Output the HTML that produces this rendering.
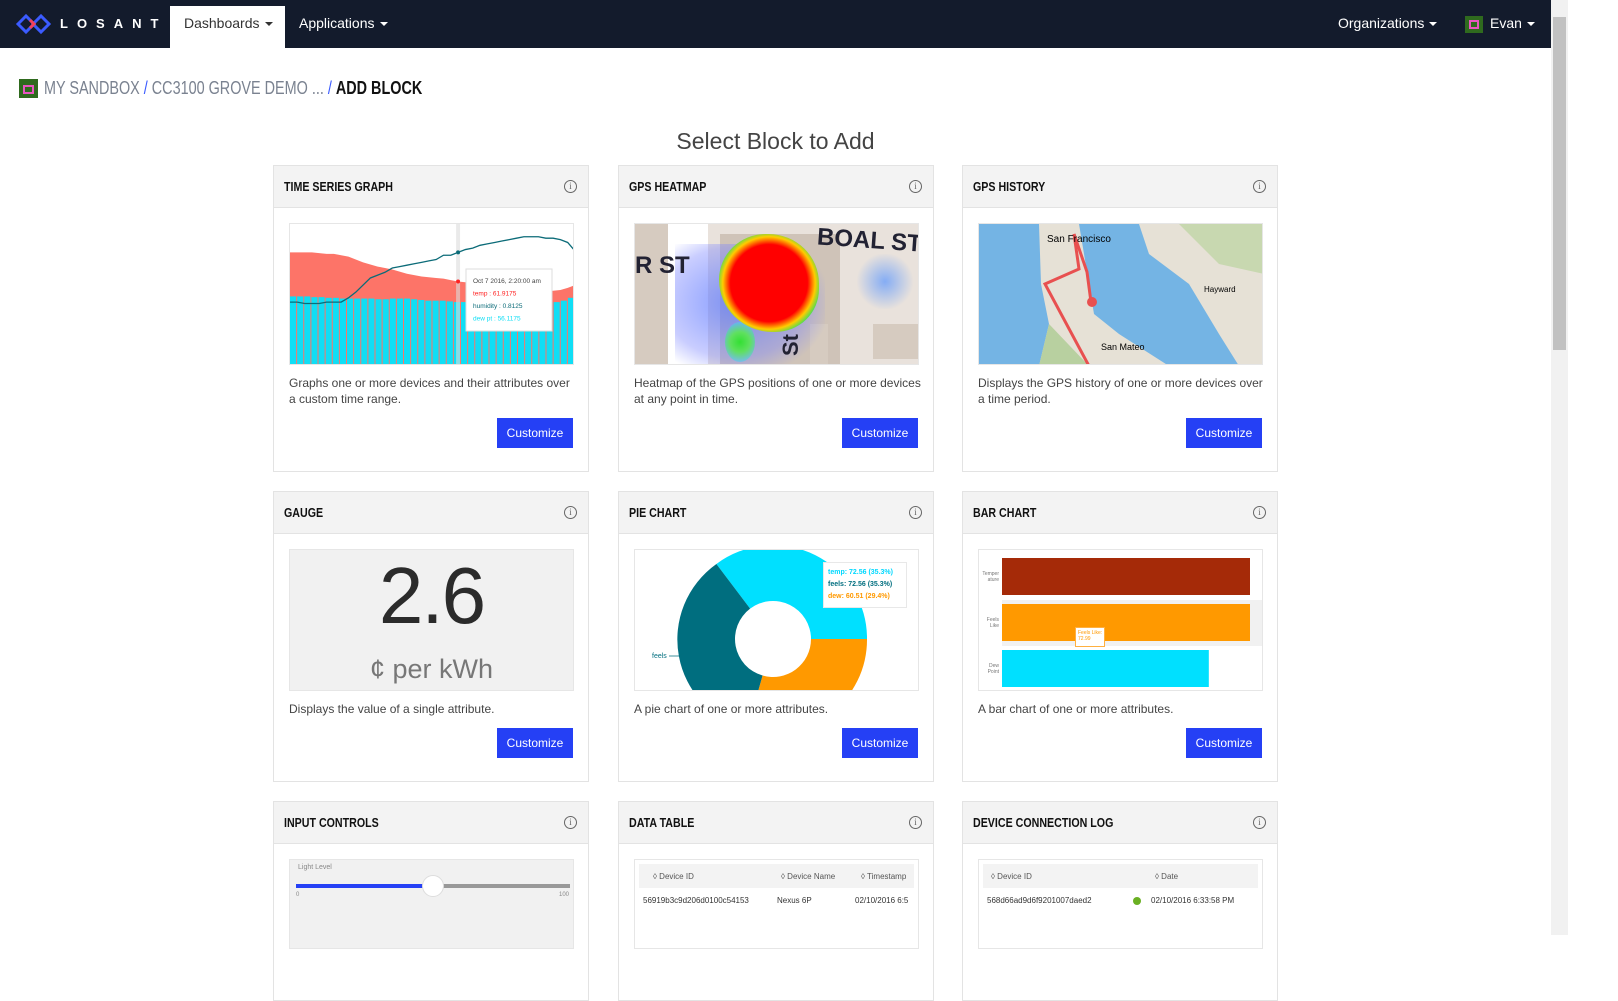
<!DOCTYPE html>
<html><head><meta charset="utf-8">
<style>
*{box-sizing:border-box;margin:0;padding:0}
html,body{width:1618px;height:935px;overflow:hidden;background:#fff;font-family:"Liberation Sans",sans-serif;color:#333}
.nav{position:absolute;left:0;top:0;width:1551px;height:48px;background:#131b2c}
.nav span{position:absolute;top:15px;font-size:14px;color:#fff;white-space:nowrap}
.caret{display:inline-block;width:0;height:0;border-left:4px solid transparent;border-right:4px solid transparent;border-top:4px solid currentColor;margin-left:5px;vertical-align:middle}
.scroll{position:absolute;left:1551px;top:0;width:17px;height:935px;background:#f1f1f1}
.thumb{position:absolute;left:1553px;top:17px;width:13px;height:333px;background:#c1c1c1}
.crumb{position:absolute;top:78px;font-size:18px;color:#7a8290;white-space:nowrap;transform:scaleX(0.8);transform-origin:left top}
.card{position:absolute;width:316px;border:1px solid #e3e3e3;background:#fff}
.hd{height:42px;background:#f3f3f3;border-bottom:1px solid #e3e3e3;position:relative}
.hd b{position:absolute;left:10px;top:13px;font-size:13px;color:#111;white-space:nowrap;transform:scaleX(0.82);transform-origin:left top}
.info{position:absolute;right:11px;top:14px;width:13px;height:13px;border:1px solid #666;border-radius:50%;font-size:9px;line-height:11px;text-align:center;color:#666;font-family:"Liberation Serif",serif}
.img{position:absolute;left:15px;top:57px;width:285px;height:142px;border:1px solid #e6e6e6;overflow:hidden}
.desc{position:absolute;left:15px;font-size:12px;line-height:16px;color:#444;width:290px}
.btn{position:absolute;right:15px;width:76px;height:30px;background:#2540f5;color:#fff;font-size:12px;text-align:center;line-height:30px}
</style></head><body>
<div class="nav">
 <svg style="position:absolute;left:16px;top:13px" width="36" height="22"><path d="M2 11 L10 3 L18 11 L10 19 Z" fill="none" stroke="#3b5bff" stroke-width="3"/><path d="M17 11 L25 3 L33 11 L25 19 Z" fill="none" stroke="#3b5bff" stroke-width="3"/><path d="M14 7 L18 11 L14 15" stroke="#f5405a" stroke-width="3" fill="none"/></svg>
 <span style="left:60px;letter-spacing:9px;font-weight:bold;font-size:13px;top:16px">LOSANT</span>
 <div style="position:absolute;left:170px;top:6px;width:115px;height:42px;background:#fff"></div>
 <span style="left:184px;color:#333">Dashboards<i class="caret"></i></span>
 <span style="left:299px">Applications<i class="caret"></i></span>
 <span style="left:1338px">Organizations<i class="caret"></i></span>
 <div style="position:absolute;left:1465px;top:16px;width:18px;height:17px;background:#2f6a1e"><div style="margin:4px 4px;width:10px;height:9px;border:2px solid #e856c0"></div></div>
 <span style="left:1490px">Evan<i class="caret"></i></span>
</div>
<div class="scroll"></div><div class="thumb"></div>

<div style="position:absolute;left:19px;top:79px;width:19px;height:19px;background:#2f6a1e"><div style="margin:6px 4px;width:11px;height:9px;border:2px solid #e856c0"></div></div>
<div class="crumb" style="left:44px">MY SANDBOX <span style="color:#3b5bff">/</span> CC3100 GROVE DEMO ... <span style="color:#3b5bff">/</span> <b style="color:#111">ADD BLOCK</b></div>
<div style="position:absolute;left:0;width:1551px;top:128px;text-align:center;font-size:23px;color:#444">Select Block to Add</div>

<!-- Row 1 -->
<div class="card" style="left:273px;top:165px;height:307px">
 <div class="hd"><b>TIME SERIES GRAPH</b><div class="info">i</div></div>
 <div class="img"><svg id="ts" width="285" height="142"></svg></div>
 <div class="desc" style="top:209px">Graphs one or more devices and their attributes over a custom time range.</div>
 <div class="btn" style="top:252px">Customize</div>
</div>
<div class="card" style="left:618px;top:165px;height:307px">
 <div class="hd"><b>GPS HEATMAP</b><div class="info">i</div></div>
 <div class="img" style="background:#e9e2dc">
  <div style="position:absolute;left:0;top:0;width:33px;height:142px;background:#d6cbc0"></div>
  <div style="position:absolute;left:33px;top:0;width:40px;height:142px;background:#fff"></div>
  <div style="position:absolute;left:85px;top:10px;width:120px;height:132px;background:#cfc3b8"></div>
  <div style="position:absolute;left:238px;top:100px;width:45px;height:35px;background:#d6cbc0"></div>
  <div style="position:absolute;left:175px;top:100px;width:18px;height:42px;background:#d6cbc0"></div>
  <div style="position:absolute;left:40px;top:20px;width:150px;height:130px;background:radial-gradient(ellipse at 40% 45%,rgba(90,120,255,.75),rgba(120,130,255,.4) 55%,rgba(150,150,255,0) 75%)"></div>
  <div style="position:absolute;left:220px;top:30px;width:60px;height:55px;background:radial-gradient(circle,rgba(90,150,255,.7),rgba(120,140,255,0) 70%)"></div>
  <div style="position:absolute;left:90px;top:98px;width:30px;height:40px;border-radius:50%;background:radial-gradient(circle,#33e033,#60e060 40%,rgba(80,200,255,.6) 80%,rgba(80,200,255,0))"></div>
  <div style="position:absolute;left:84px;top:10px;width:100px;height:98px;border-radius:48% 52% 45% 55%;background:radial-gradient(circle at 50% 50%,#ff0000 55%,#ffcc00 66%,#30e060 76%,rgba(60,200,255,.8) 86%,rgba(80,160,255,0) 100%)"></div>
  <div style="position:absolute;left:182px;top:3px;font-size:24px;font-weight:bold;color:#223;transform:rotate(4deg);white-space:nowrap">BOAL ST</div>
  <div style="position:absolute;left:0;top:28px;font-size:24px;font-weight:bold;color:#223;white-space:nowrap">R ST</div>
  <div style="position:absolute;left:145px;top:108px;font-size:22px;font-weight:bold;color:#223;transform:rotate(-90deg)">St</div>
 </div>
 <div class="desc" style="top:209px">Heatmap of the GPS positions of one or more devices at any point in time.</div>
 <div class="btn" style="top:252px">Customize</div>
</div>
<div class="card" style="left:962px;top:165px;height:307px">
 <div class="hd"><b>GPS HISTORY</b><div class="info">i</div></div>
 <div class="img" style="background:#74b4e4">
  <svg width="285" height="142"><path d="M60 0 L100 0 L105 30 L110 60 L115 90 L140 110 L190 142 L60 142 L70 100 L62 60 Z" fill="#e6e1d6"/><path d="M160 0 L285 0 L285 142 L260 142 L240 110 L210 60 L170 30 Z" fill="#e6e1d6"/><path d="M200 0 L285 0 L285 50 L240 40 Z" fill="#c8d8b0"/><path d="M70 100 L110 142 L60 142 Z" fill="#b8d0a0"/><path d="M95 10 L100 45 L66 60 L110 142" stroke="#e85050" stroke-width="3" fill="none"/><path d="M95 10 L108 48 L112 78" stroke="#e85050" stroke-width="3" fill="none"/><circle cx="113" cy="78" r="5" fill="#e85050"/>
  <text x="68" y="18" font-size="10" font-family="Liberation Sans">San Francisco</text><text x="225" y="68" font-size="8" font-family="Liberation Sans">Hayward</text><text x="122" y="126" font-size="9" font-family="Liberation Sans">San Mateo</text></svg>
 </div>
 <div class="desc" style="top:209px">Displays the GPS history of one or more devices over a time period.</div>
 <div class="btn" style="top:252px">Customize</div>
</div>

<!-- Row 2 -->
<div class="card" style="left:273px;top:491px;height:291px">
 <div class="hd"><b>GAUGE</b><div class="info">i</div></div>
 <div class="img" style="background:#f1f1f1;border-color:#e6e6e6">
  <div style="position:absolute;width:100%;top:0;text-align:center;font-size:80px;color:#2b2b2b;letter-spacing:-2px">2.6</div>
  <div style="position:absolute;width:100%;top:104px;text-align:center;font-size:27px;color:#777">¢ per kWh</div>
 </div>
 <div class="desc" style="top:209px">Displays the value of a single attribute.</div>
 <div class="btn" style="top:236px">Customize</div>
</div>
<div class="card" style="left:618px;top:491px;height:291px">
 <div class="hd"><b>PIE CHART</b><div class="info">i</div></div>
 <div class="img"><svg id="pie" width="285" height="142"></svg>
  <div style="position:absolute;left:188px;top:12px;width:84px;height:46px;background:#fff;border:1px solid #e8e8e8;font-size:7px;line-height:12px;padding:4px 4px;font-weight:bold;white-space:nowrap"><div style="color:#00d8ff">temp: 72.56 (35.3%)</div><div style="color:#006e7f">feels: 72.56 (35.3%)</div><div style="color:#ff9900">dew: 60.51 (29.4%)</div></div>
 </div>
 <div class="desc" style="top:209px">A pie chart of one or more attributes.</div>
 <div class="btn" style="top:236px">Customize</div>
</div>
<div class="card" style="left:962px;top:491px;height:291px">
 <div class="hd"><b>BAR CHART</b><div class="info">i</div></div>
 <div class="img"><svg id="bar" width="285" height="142"></svg>
  <div style="position:absolute;left:96px;top:77px;width:30px;height:20px;background:#fff;border:1px solid #ffb040;font-size:5px;color:#ff9900;padding:2px;white-space:nowrap">Feels Like:<br>72.99</div>
 </div>
 <div class="desc" style="top:209px">A bar chart of one or more attributes.</div>
 <div class="btn" style="top:236px">Customize</div>
</div>

<!-- Row 3 -->
<div class="card" style="left:273px;top:801px;height:200px">
 <div class="hd"><b>INPUT CONTROLS</b><div class="info">i</div></div>
 <div class="img" style="background:#f1f1f1;top:57px;height:90px">
  <div style="position:absolute;left:8px;top:4px;font-size:7px;color:#888">Light Level</div>
  <div style="position:absolute;left:6px;top:24px;width:136px;height:4px;background:#2540f5"></div>
  <div style="position:absolute;left:142px;top:24px;width:138px;height:4px;background:#999"></div>
  <div style="position:absolute;left:132px;top:15px;width:22px;height:22px;border-radius:50%;background:#fff;border:1px solid #ddd"></div>
  <div style="position:absolute;left:6px;top:32px;font-size:6px;color:#888">0</div>
  <div style="position:absolute;right:4px;top:32px;font-size:6px;color:#888">100</div>
 </div>
</div>
<div class="card" style="left:618px;top:801px;height:200px">
 <div class="hd"><b>DATA TABLE</b><div class="info">i</div></div>
 <div class="img" style="top:57px;height:90px;padding:4px">
  <div style="background:#f3f3f3;height:24px;font-size:8px;color:#555;position:relative"><span style="position:absolute;left:14px;top:8px">◊ Device ID</span><span style="position:absolute;left:142px;top:8px">◊ Device Name</span><span style="position:absolute;left:222px;top:8px">◊ Timestamp</span></div>
  <div style="height:22px;font-size:8px;color:#333;position:relative"><span style="position:absolute;left:4px;top:8px">56919b3c9d206d0100c54153</span><span style="position:absolute;left:138px;top:8px">Nexus 6P</span><span style="position:absolute;left:216px;top:8px;white-space:nowrap">02/10/2016 6:5</span></div>
 </div>
</div>
<div class="card" style="left:962px;top:801px;height:200px">
 <div class="hd"><b>DEVICE CONNECTION LOG</b><div class="info">i</div></div>
 <div class="img" style="top:57px;height:90px;padding:4px">
  <div style="background:#f3f3f3;height:24px;font-size:8px;color:#555;position:relative"><span style="position:absolute;left:8px;top:8px">◊ Device ID</span><span style="position:absolute;left:172px;top:8px">◊ Date</span></div>
  <div style="height:22px;font-size:8px;color:#333;position:relative"><span style="position:absolute;left:4px;top:8px">568d66ad9d6f9201007daed2</span><span style="position:absolute;left:150px;top:9px;width:8px;height:8px;border-radius:50%;background:#6ab023"></span><span style="position:absolute;left:168px;top:8px">02/10/2016 6:33:58 PM</span></div>
 </div>
</div>

<script>
// ---- Time series data (values on 0-100 scale) ----
const tsTemp=[80,80,80,80,79.5,79,79,78,77,75,73,71.5,70,69,68,66.5,65,64,63,62.5,62,61.5,60.5,59.5,59,58.5,58,57.5,57,56.5,56,55.5,55,54,53.5,53,53,53.5,55,57];
const tsDew=[49,49,49,48.5,48.5,48,48,47.5,47.5,47.5,47.5,47.5,47,47,47.5,47.5,47.5,47,46.5,46,46,46,45.5,45,45,44.5,44,44,44,43.5,43.5,43.5,43.5,44,44,44,45,45,46,48];
const tsHum=[45,45,44,44,44,45,45,45,48,52,57,62,64,66,69,70,71,72,73,74,75,78,78,80,82,83,85,86,87,88,89,90,91,91,91,90,90,89,87,81];
const NS="http://www.w3.org/2000/svg";
function mk(svg,tag,attrs){const e=document.createElementNS(NS,tag);for(const k in attrs)e.setAttribute(k,attrs[k]);svg.appendChild(e);return e;}
(function(){
 const svg=document.getElementById('ts'),W=285,H=142;
 const x=i=>i*W/(tsTemp.length-1), y=v=>H-v*H/100;
 let d='M0 '+H;tsTemp.forEach((v,i)=>d+=' L'+x(i)+' '+y(v));d+=' L'+W+' '+H+' Z';
 const a=mk(svg,'path',{d:d,fill:'#fd7468'});
 
 
 const bw=W/tsDew.length;
 tsDew.forEach((v,i)=>{const r=mk(svg,'rect',{x:i*bw,y:y(v),width:bw-1,height:H-y(v),fill:'#10def5'});
  
  });
 let p='';tsHum.forEach((v,i)=>p+=(i?' L':'M')+x(i)+' '+y(v));
 const l=mk(svg,'path',{d:p,fill:'none',stroke:'#0b6b78','stroke-width':1.3});
 
 
 const hi=23;
 mk(svg,'rect',{x:x(hi)-2,y:0,width:4,height:H,fill:'rgba(220,220,220,.6)'});
 mk(svg,'circle',{cx:x(hi),cy:y(tsHum[hi]),r:2,fill:'#0b6b78'});
 mk(svg,'circle',{cx:x(hi),cy:y(tsTemp[hi]),r:2,fill:'#f22'});
 const g=mk(svg,'g',{});
 
 
 mk(g,'rect',{x:176,y:45,width:86,height:62,fill:'#fff',stroke:'#ddd'});
 const lines=[['Oct 7 2016, 2:20:00 am','#444'],['temp : 61.9175','#f22'],['humidity : 0.8125','#0b6b78'],['dew pt : 56.1175','#10def5']];
 lines.forEach((t,i)=>{const e=mk(g,'text',{x:183,y:59+i*12.5,'font-size':6.5,fill:t[1],'font-family':'Liberation Sans'});e.textContent=t[0];});
})();
// ---- Pie data ----
const pieLabels=['temp','dew','feels'];
const pieValues=[72.56,60.51,72.56];
const pieColors=['#00e0ff','#ff9900','#006e7f'];
(function(){
 const svg=document.getElementById('pie'),cx=138,cy=89,R=94,r=38;
 const tot=pieValues.reduce((s,v)=>s+v,0);
 let a0=90-360*pieValues[0]/tot;
 pieValues.forEach((v,i)=>{
  const a1=a0+360*v/tot;
  const P=(ang,rad)=>[cx+rad*Math.sin(ang*Math.PI/180),cy-rad*Math.cos(ang*Math.PI/180)];
  const large=(a1-a0)>180?1:0;
  const [x0,y0]=P(a0,R),[x1,y1]=P(a1,R),[x2,y2]=P(a1,r),[x3,y3]=P(a0,r);
  const s=mk(svg,'path',{d:`M${x0} ${y0} A${R} ${R*0.99} 0 ${large} 1 ${x1} ${y1} L${x2} ${y2} A${r} ${r} 0 ${large} 0 ${x3} ${y3} Z`,fill:pieColors[i]});
  
  
  a0=a1;
 });
 mk(svg,'path',{d:'M34 106 L44 106 L50 103',stroke:'#006e7f',fill:'none','stroke-width':0.7});
 const t=mk(svg,'text',{x:17,y:108,'font-size':7,fill:'#006e7f','font-family':'Liberation Sans'});t.textContent='feels';
})();
// ---- Bar data ----
const barCats=['Temper ature','Feels Like','Dew Point'];
const barValues=[72.56,72.56,60.51];
const barColors=['#a52a08','#ff9900','#00e0ff'];
(function(){
 const svg=document.getElementById('bar'),x0=23,xScale=v=>x0+v*(248/72.56);
 mk(svg,'rect',{x:x0,y:50,width:262,height:46,fill:'#f1f1f1'});
 barValues.forEach((v,i)=>{
  const yy=8+i*46;
  const b=mk(svg,'rect',{x:x0,y:yy,width:xScale(v)-x0,height:37,fill:barColors[i]});
  
  
  const w=barCats[i].split(' ');
  w.forEach((s,j)=>{const t=mk(svg,'text',{x:20,y:yy+17+j*6,'font-size':5,fill:'#777','text-anchor':'end','font-family':'Liberation Sans'});t.textContent=s;});
 });
})();
</script>
</body></html>
